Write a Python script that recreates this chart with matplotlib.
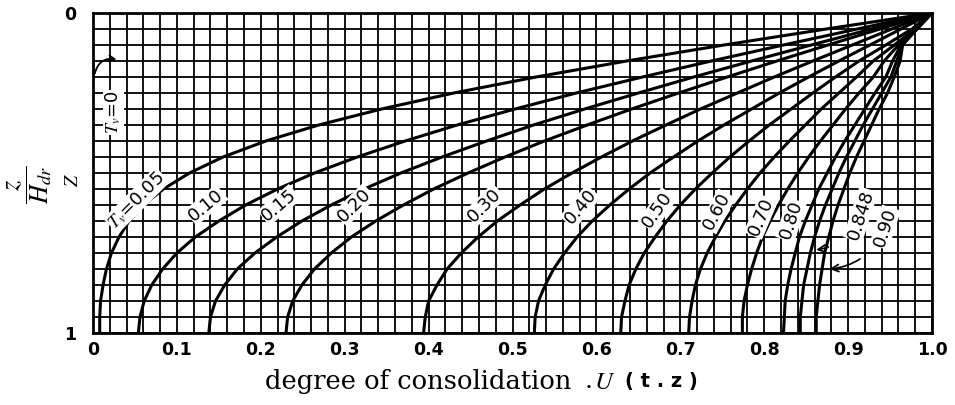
import matplotlib.pyplot as plt
import numpy as np

plt.rcParams['mathtext.fontset'] = 'stix'

# depth ratio z/H_dr where the isochrones are sampled (0 = drainage face)
z_levels = [1.00, 0.95, 0.90, 0.85, 0.80, 0.75, 0.70, 0.65, 0.60, 0.55, 0.50,
            0.45, 0.40, 0.35, 0.30, 0.25, 0.20, 0.15, 0.10, 0.05, 0.00]

# degree of consolidation U(t, z) along each isochrone
u_005 = [0.008, 0.008, 0.009, 0.012, 0.016, 0.022, 0.031, 0.043, 0.060, 0.084, 0.115,
         0.155, 0.206, 0.269, 0.344, 0.430, 0.528, 0.636, 0.752, 0.874, 1.0]
u_010 = [0.054, 0.056, 0.061, 0.070, 0.083, 0.100, 0.122, 0.150, 0.182, 0.220, 0.264,
         0.315, 0.372, 0.434, 0.503, 0.576, 0.655, 0.737, 0.823, 0.911, 1.0]
u_015 = [0.138, 0.140, 0.146, 0.157, 0.172, 0.193, 0.219, 0.249, 0.284, 0.323, 0.367,
         0.416, 0.469, 0.525, 0.586, 0.650, 0.716, 0.785, 0.856, 0.928, 1.0]
u_020 = [0.230, 0.232, 0.238, 0.249, 0.264, 0.284, 0.308, 0.337, 0.370, 0.406, 0.447,
         0.491, 0.538, 0.589, 0.642, 0.698, 0.756, 0.815, 0.876, 0.938, 1.0]
u_030 = [0.394, 0.396, 0.400, 0.410, 0.422, 0.439, 0.459, 0.482, 0.509, 0.538, 0.571,
         0.606, 0.643, 0.683, 0.724, 0.768, 0.812, 0.858, 0.905, 0.952, 1.0]
u_040 = [0.526, 0.527, 0.531, 0.539, 0.549, 0.562, 0.577, 0.595, 0.616, 0.639, 0.664,
         0.692, 0.721, 0.752, 0.785, 0.818, 0.853, 0.889, 0.926, 0.963, 1.0]
u_050 = [0.629, 0.630, 0.634, 0.639, 0.647, 0.657, 0.670, 0.684, 0.700, 0.718, 0.738,
         0.759, 0.782, 0.806, 0.832, 0.858, 0.885, 0.913, 0.945, 0.976, 1.0]
u_060 = [0.710, 0.711, 0.714, 0.718, 0.724, 0.732, 0.742, 0.753, 0.766, 0.780, 0.795,
         0.812, 0.830, 0.849, 0.868, 0.889, 0.910, 0.930, 0.955, 0.980, 1.0]
u_070 = [0.774, 0.774, 0.776, 0.780, 0.785, 0.791, 0.798, 0.807, 0.817, 0.828, 0.840,
         0.853, 0.867, 0.882, 0.897, 0.913, 0.930, 0.943, 0.960, 0.981, 1.0]
u_080 = [0.823, 0.824, 0.825, 0.828, 0.832, 0.837, 0.842, 0.849, 0.857, 0.865, 0.875,
         0.885, 0.896, 0.908, 0.920, 0.932, 0.945, 0.953, 0.963, 0.982, 1.0]
u_0848 = [0.843, 0.843, 0.845, 0.847, 0.851, 0.855, 0.860, 0.866, 0.873, 0.881, 0.889,
          0.898, 0.908, 0.918, 0.929, 0.940, 0.951, 0.958, 0.964, 0.982, 1.0]
u_090 = [0.862, 0.862, 0.864, 0.866, 0.869, 0.872, 0.877, 0.882, 0.888, 0.895, 0.902,
         0.910, 0.919, 0.928, 0.937, 0.947, 0.955, 0.962, 0.965, 0.982, 1.0]

isochrones = [u_005, u_010, u_015, u_020, u_030, u_040, u_050, u_060, u_070,
              u_080, u_0848, u_090]

# curve labels: text, position (U, z), angle
labels = [r'$T_v$=0.05', '0.10', '0.15', '0.20', '0.30', '0.40', '0.50', '0.60',
          '0.70', '0.80']
label_u = [0.052, 0.135, 0.222, 0.312, 0.467, 0.581, 0.673, 0.744, 0.796, 0.832]
label_z = [0.585, 0.600, 0.600, 0.600, 0.600, 0.606, 0.615, 0.620, 0.637, 0.647]
label_rot = [45, 40, 40, 45, 45, 50, 55, 62, 67, 72]

x_ticks = [0, 0.1, 0.2, 0.3, 0.4, 0.5, 0.6, 0.7, 0.8, 0.9, 1.0]
x_ticklabels = ['0', '0.1', '0.2', '0.3', '0.4', '0.5', '0.6', '0.7', '0.8', '0.9', '1.0']

fig = plt.figure(figsize=(9.55, 4.05), dpi=100)
ax = fig.add_axes([93 / 955, 1 - 333 / 405, 839 / 955, 320 / 405])

ax.set_xlim(0, 1)
ax.set_ylim(1, 0)

# graph-paper grid
ax.set_xticks(np.arange(0, 1.0001, 0.02), minor=True)
ax.set_yticks(np.arange(0, 1.0001, 0.05), minor=True)
ax.grid(which='both', color='black', lw=1.3, zorder=0.5)
ax.set_axisbelow(True)

ax.set_xticks(x_ticks)
ax.set_xticklabels(x_ticklabels, fontsize=12.5, fontweight='bold')
ax.set_yticks([0, 1])
ax.set_yticklabels(['0', '1'], fontsize=12.5, fontweight='bold')
ax.tick_params(which='both', length=0, pad=6)
ax.tick_params(axis='y', pad=12)
for sp in ax.spines.values():
    sp.set_linewidth(2)

for u in isochrones:
    ax.plot(u, z_levels, color='black', lw=2.2, solid_capstyle='round', zorder=2)

box = dict(fc='white', ec='none', pad=0.6)
for s, x, y, r in zip(labels, label_u, label_z, label_rot):
    ax.text(x, y, s, fontsize=13, rotation=r, rotation_mode='anchor',
            ha='center', va='center', bbox=box, zorder=3)

# T_v = 0 runs along the left edge
ax.text(0.024, 0.31, r'$T_v$=0', fontsize=13, rotation=90, ha='center', va='center',
        bbox=box, zorder=3)
ax.annotate('', xy=(0.028, 0.145), xytext=(0.002, 0.19),
            arrowprops=dict(arrowstyle='->', lw=1.3, color='black',
                            connectionstyle='arc3,rad=-0.45', shrinkA=0, shrinkB=0),
            zorder=3)

# labels for the two late isochrones, with arrows to the curves
ax.annotate('0.848', xy=(0.862, 0.74), xytext=(0.915, 0.63),
            fontsize=13, rotation=72, rotation_mode='anchor', ha='center', va='center',
            bbox=box, zorder=3,
            arrowprops=dict(arrowstyle='->', lw=1.2, color='black',
                            connectionstyle='arc3,rad=-0.3', shrinkA=14, shrinkB=0))
ax.annotate('0.90', xy=(0.878, 0.80), xytext=(0.944, 0.67),
            fontsize=13, rotation=72, rotation_mode='anchor', ha='center', va='center',
            bbox=box, zorder=3,
            arrowprops=dict(arrowstyle='->', lw=1.2, color='black',
                            connectionstyle='arc3,rad=-0.3', shrinkA=14, shrinkB=0))

fig.text(30 / 955, 1 - 185 / 405, r'$\dfrac{z}{H_{dr}}$', fontsize=19,
         rotation=90, ha='center', va='center')
fig.text(72 / 955, 1 - 180 / 405, r'$Z$', fontsize=14,
         rotation=90, ha='center', va='center')

fig.text(418 / 955, 1 - 382 / 405, 'degree of consolidation', family='DejaVu Serif',
         fontsize=18.5, ha='center', va='center')
fig.text(589 / 955, 1 - 382 / 405, '.', family='DejaVu Serif',
         fontsize=18, ha='center', va='center')
fig.text(605 / 955, 1 - 382 / 405, r'$\mathbf{\mathit{U}}$', fontsize=18,
         ha='center', va='center')
fig.text(661 / 955, 1 - 382 / 405, '( t . z )', family='DejaVu Sans', fontweight='bold',
         fontsize=14, ha='center', va='center')

fig.savefig('out.png', dpi=100)
